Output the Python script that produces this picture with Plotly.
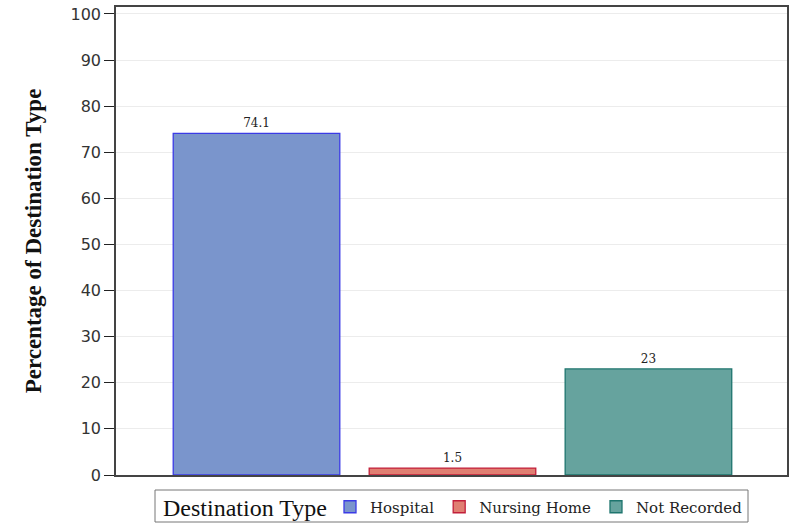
import plotly.graph_objects as go

categories = ["Hospital", "Nursing Home", "Not Recorded"]
values = [74.1, 1.5, 23]
labels = ["74.1", "1.5", "23"]
fills = ["#7A95CC", "#E07F72", "#66A39E"]
borders = ["#3B3BE6", "#C21F3A", "#1E756E"]
y_ticks = [0, 10, 20, 30, 40, 50, 60, 70, 80, 90, 100]
legend_title = "Destination Type"

fig = go.Figure()
for i, cat in enumerate(categories):
    fig.add_trace(go.Bar(
        x=[i], y=[values[i]], name=cat,
        width=0.85,
        marker=dict(color=fills[i], line=dict(color=borders[i], width=1.3)),
        text=[labels[i]], textposition="outside", cliponaxis=False,
        textfont=dict(family="DejaVu Serif", size=12, color="#222"),
    ))

# legend frame (layout box, in paper coordinates of the plot area)
box_x0, box_x1 = (155 - 116) / 671, (748 - 116) / 671
box_y0, box_y1 = (475 - 522) / 468, (475 - 490) / 468
fig.add_shape(type="rect", xref="paper", yref="paper",
              x0=box_x0, x1=box_x1, y0=box_y0, y1=box_y1,
              line=dict(color="#777", width=1), fillcolor="white", layer="below")
fig.add_annotation(xref="paper", yref="paper", x=(161 - 116) / 671,
                   y=(475 - 508) / 468, xanchor="left", yanchor="middle",
                   text=legend_title, showarrow=False,
                   font=dict(family="Liberation Serif", size=24, color="#111"))

fig.update_layout(
    width=792, height=525,
    margin=dict(l=116, r=5, t=7, b=50, autoexpand=False),
    paper_bgcolor="white", plot_bgcolor="white",
    barmode="overlay",
    showlegend=True,
    legend=dict(
        orientation="h", x=(748 - 116) / 671, xanchor="right",
        yref="container", y=(525 - 507) / 525, yanchor="middle",
        font=dict(family="DejaVu Serif", size=15, color="#222"),
        borderwidth=0, bgcolor="rgba(0,0,0,0)",
        itemwidth=30, tracegroupgap=0,
    ),
    xaxis=dict(
        range=[-0.717, 2.707], showticklabels=False, ticks="",
        showgrid=False, zeroline=False, automargin=False,
        showline=True, linecolor="#444", linewidth=1.5, mirror=True,
    ),
    yaxis=dict(
        range=[0, 101.5], tickvals=y_ticks, automargin=False,
        ticks="outside", ticklen=10, tickcolor="#222", tickwidth=1.3,
        tickfont=dict(family="DejaVu Sans", size=16, color="#333"),
        showgrid=True, gridcolor="#ECECEC", gridwidth=1,
        zeroline=False,
        showline=True, linecolor="#444", linewidth=1.5, mirror=True,
        title=dict(text="<b>Percentage of Destination Type</b>", standoff=22,
                   font=dict(family="Liberation Serif", size=23, color="#111")),
    ),
)

fig.write_html("out.html", config={"displayModeBar": False},
               post_script="document.body.style.margin='0';")
